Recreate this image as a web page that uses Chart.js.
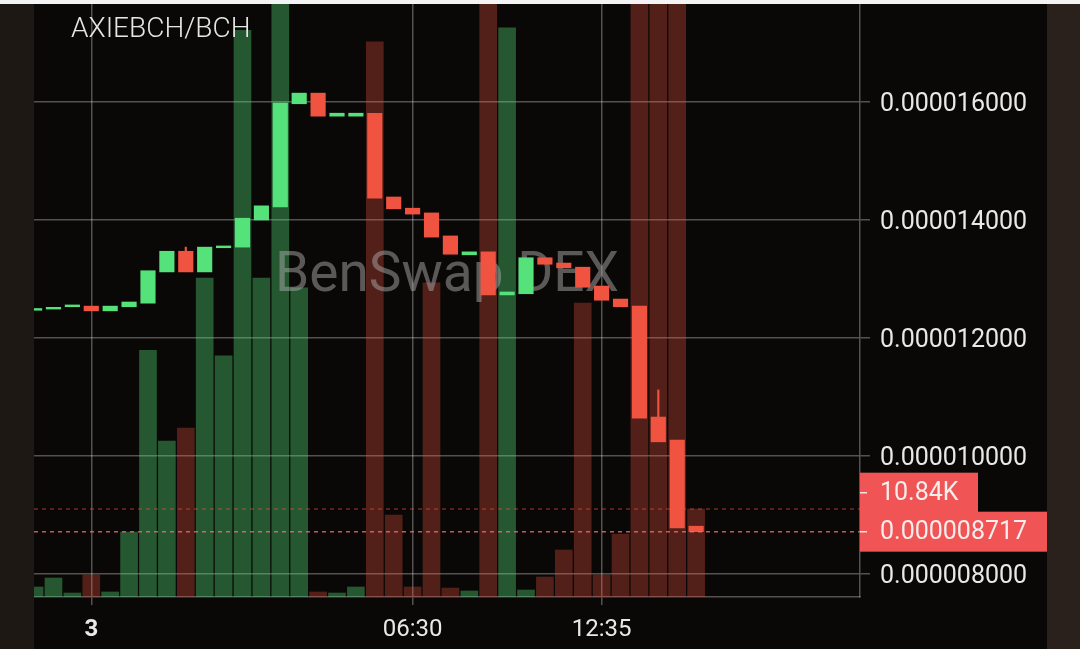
<!DOCTYPE html>
<html>
<head>
<meta charset="utf-8">
<script src="https://cdn.jsdelivr.net/npm/chart.js@4.4.1/dist/chart.umd.min.js"></script>
<style>
  html, body { margin: 0; padding: 0; background: #f4f4f4; width: 1080px; height: 649px; overflow: hidden; }
  #frame { position: absolute; left: 0; top: 4px; width: 1080px; height: 645px; background: #1e1815; }
  #rightStrip { position: absolute; left: 1047px; top: 0; width: 33px; height: 645px; background: #2a211d; }
  #wrap { position: absolute; left: 34px; top: 0; width: 1013px; height: 645px; background: #0a0807; }
</style>
</head>
<body>
<div id="frame">
  <div id="wrap"><canvas id="candleChart"></canvas></div>
  <div id="rightStrip"></div>
</div>
<script>
// prices in units of 1e-6 BCH, volumes in K
const opens  = [12.47, 12.49, 12.53, 12.54, 12.46, 12.53, 12.59, 13.12, 13.47, 13.12, 13.53, 13.54,
                14.00, 14.22, 15.97, 16.15, 15.76, 15.76, 15.81, 14.39, 14.20, 14.12, 13.73, 13.41,
                13.46, 12.73, 12.75, 13.36, 13.27, 13.20, 12.88, 12.66, 12.54, 10.66, 10.27, 8.81];
const closes = [12.50, 12.52, 12.56, 12.46, 12.54, 12.61, 13.14, 13.47, 13.12, 13.54, 13.56, 14.03,
                14.24, 15.98, 16.15, 15.76, 15.81, 15.81, 14.37, 14.19, 14.10, 13.71, 13.42, 13.46,
                12.73, 12.78, 13.36, 13.25, 13.19, 12.86, 12.64, 12.53, 10.64, 10.24, 8.78, 8.717];
const volumes = [1.23, 2.34, 0.49, 2.71, 0.62, 8.01, 30.4, 19.2, 20.8, 39.3, 29.7, 69.8,
                 39.3, 80, 38.1, 0.62, 0.49, 1.23, 68.4, 10.1, 1.23, 38.7, 1.1, 0.74,
                 80, 70.1, 0.86, 2.46, 5.79, 36.2, 2.71, 7.76, 80, 80, 80, 10.84];
const wickIdx  = [8, 33];
const wickHigh = [13.54, 11.12];

const priceTicks = [8, 10, 12, 14, 16];
const xTickPos   = [3, 20, 30];
const xTickText  = ['3', '06:30', '12:35'];

const pairTitle = 'AXIEBCH/BCH';
const watermark = 'BenSwap DEX';

const UP = '#55e27b';
const DOWN = '#f05340';
const UP_VOL = 'rgba(85, 226, 123, 0.37)';
const DOWN_VOL = 'rgba(240, 83, 64, 0.32)';
const GRID = 'rgba(255, 255, 255, 0.3)';

Chart.defaults.font.family = 'Roboto';

const isUp = i => closes[i] >= opens[i];
const fmtPrice = v => (v * 1e-6).toFixed(9);

const candleData = opens.map((o, i) => ({ x: i, y: [o, closes[i]] }));
const wickData = wickIdx.map((i, k) => ({ x: i, y: [Math.max(opens[i], closes[i]), wickHigh[k]] }));
const volData = volumes.map((v, i) => ({ x: i, y: v }));

function noPad(scale) {
    scale.paddingTop = 0; scale.paddingBottom = 0;
    scale.paddingLeft = 0; scale.paddingRight = 0;
}

// --- overlays: watermark (over volume, under candles), lines, tags, title ---
const overlay = {
    id: 'overlay',
    afterDatasetDraw(chart, args) {
        if (args.index !== 2) return;
        const c = chart.ctx, a = chart.chartArea;
        c.save();
        c.beginPath(); c.rect(a.left, a.top, a.right - a.left, a.bottom - a.top); c.clip();
        c.font = '55px Roboto';
        c.fillStyle = 'rgba(170, 170, 170, 0.5)';
        c.textAlign = 'center';
        c.textBaseline = 'alphabetic';
        c.fillText(watermark, 413, 287);
        c.restore();
    },
    afterDraw(chart) {
        const c = chart.ctx, a = chart.chartArea;
        const lastClose = closes[closes.length - 1];
        const lastVol = volumes[volumes.length - 1];
        const yP = chart.scales.y.getPixelForValue(lastClose);
        const yV = chart.scales.vol.getPixelForValue(lastVol);
        c.save();
        c.lineWidth = 1.5;
        c.setLineDash([4, 4]);
        c.strokeStyle = 'rgba(240, 83, 64, 0.45)';
        c.beginPath(); c.moveTo(a.left, yV); c.lineTo(a.right, yV); c.stroke();
        c.strokeStyle = 'rgba(240, 110, 110, 0.8)';
        c.beginPath(); c.moveTo(a.left, yP); c.lineTo(a.right, yP); c.stroke();
        c.setLineDash([]);

        // price tag
        const h = 40;
        const pTop = yP - h / 2;
        c.fillStyle = '#f05454';
        c.fillRect(a.right, pTop, chart.width - a.right, h);
        // volume tag, pushed above the price tag
        let vCenter = yV;
        if (vCenter + h / 2 > pTop) vCenter = pTop - h / 2 + 1;
        c.fillRect(a.right, vCenter - h / 2, 118, h);

        c.strokeStyle = '#f4e6e6';
        c.lineWidth = 1.5;
        c.beginPath();
        c.moveTo(a.right, yP); c.lineTo(a.right + 7, yP);
        c.moveTo(a.right, vCenter); c.lineTo(a.right + 7, vCenter);
        c.stroke();

        c.fillStyle = '#f7eded';
        c.font = '25px Roboto';
        c.textAlign = 'left';
        c.textBaseline = 'middle';
        c.fillText(fmtPrice(lastClose), a.right + 20, yP + 1);
        c.fillText(lastVol.toFixed(2) + 'K', a.right + 20, vCenter + 1);

        // pair title
        c.font = '300 28px Roboto';
        c.fillStyle = '#e6e6e6';
        c.textBaseline = 'alphabetic';
        c.fillText(pairTitle, 37, 33);
        c.restore();
    }
};

const ctx = document.getElementById('candleChart').getContext('2d');
const chart = new Chart(ctx, {
    type: 'bar',
    data: {
        datasets: [
            {
                label: 'candles',
                data: candleData,
                yAxisID: 'y',
                backgroundColor: opens.map((o, i) => isUp(i) ? UP : DOWN),
                barThickness: 14.5,
                grouped: false,
                order: 1
            },
            {
                label: 'wicks',
                data: wickData,
                yAxisID: 'y',
                backgroundColor: wickIdx.map(i => isUp(i) ? UP : DOWN),
                barThickness: 1.5,
                grouped: false,
                order: 2
            },
            {
                label: 'volume',
                data: volData,
                yAxisID: 'vol',
                backgroundColor: volumes.map((v, i) => isUp(i) ? UP_VOL : DOWN_VOL),
                barThickness: 17,
                grouped: false,
                order: 3
            }
        ]
    },
    options: {
        responsive: true,
        maintainAspectRatio: false,
        animation: false,
        layout: { padding: 0 },
        plugins: { legend: { display: false }, tooltip: { enabled: false } },
        scales: {
            x: {
                type: 'linear',
                min: -0.03,
                max: 43.67,
                offset: false,
                grid: { color: GRID, lineWidth: 1.5, tickLength: 8, offset: false },
                border: { display: true, color: GRID, width: 1.5 },
                afterBuildTicks: axis => { axis.ticks = xTickPos.map(v => ({ value: v })); },
                afterFit: s => { s.height = 52; noPad(s); },
                ticks: {
                    color: '#e8e8e8',
                    padding: 11,
                    maxRotation: 0,
                    autoSkip: false,
                    font: c => ({ size: 24, weight: c.index === 0 ? 'bold' : 'normal' }),
                    callback: (v, i) => xTickText[i]
                }
            },
            y: {
                position: 'right',
                min: 7.61,
                max: 17.661,
                grid: { color: GRID, lineWidth: 1.5, tickLength: 10 },
                border: { display: true, color: GRID, width: 1.5 },
                afterBuildTicks: axis => { axis.ticks = priceTicks.map(v => ({ value: v })); },
                afterFit: s => { s.width = 187; noPad(s); },
                ticks: {
                    color: '#e8e8e8',
                    padding: 10,
                    labelOffset: 3,
                    font: { size: 25 },
                    callback: v => fmtPrice(v)
                }
            },
            vol: {
                display: false,
                min: 0,
                max: 73.05
            }
        }
    },
    plugins: [overlay]
});
</script>
</body>
</html>
